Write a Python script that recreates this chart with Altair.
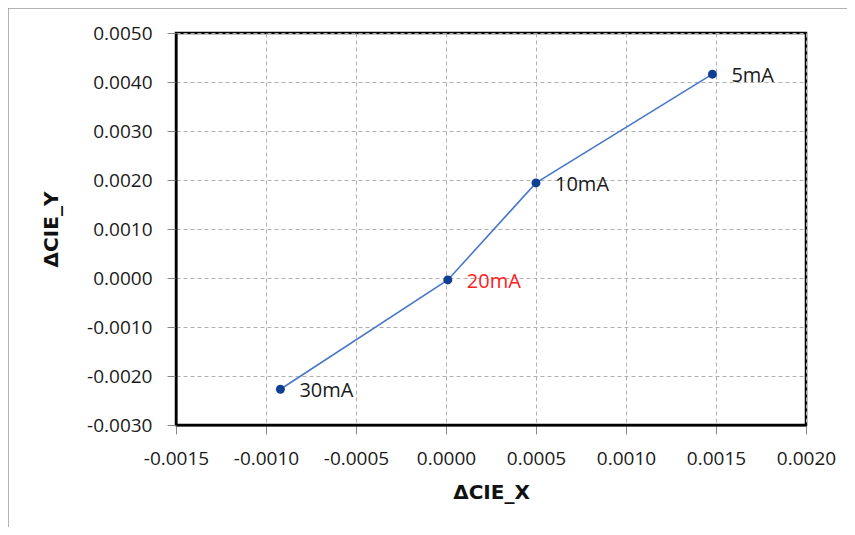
import altair as alt
import pandas as pd

labels = ["5mA", "10mA", "20mA", "30mA"]
dx_vals = [0.00148, 0.00050, 0.00001, -0.00092]
dy_vals = [0.00416, 0.00194, -0.00004, -0.00227]
label_colors = ["#1a1a1a", "#1a1a1a", "#ff2020", "#1a1a1a"]
x_ticks = [-0.0015, -0.0010, -0.0005, 0.0, 0.0005, 0.0010, 0.0015, 0.0020]
y_ticks = [-0.0030, -0.0020, -0.0010, 0.0, 0.0010, 0.0020, 0.0030, 0.0040, 0.0050]

df = pd.DataFrame({"label": labels, "x": dx_vals, "y": dy_vals, "color": label_colors,
                   "order": list(range(len(labels)))})

FONT = "Open Sans"
TFONT = "DejaVu Sans"
LBL = "replace(format(datum.value, '.4f'), '\u2212', '-')"

xs = alt.Scale(domain=[-0.0015, 0.0020], nice=False, zero=False)
ys = alt.Scale(domain=[-0.0030, 0.0050], nice=False, zero=False)

common = dict(grid=True, gridDash=[4, 3], gridColor="#b0b0b0", tickColor="#888888",
              tickSize=9, labelPadding=15, labelFontSize=19, labelColor="#1a1a1a",
              labelFont=FONT, labelExpr=LBL, labelOverlap=False, labelFlush=False,
              titleFont=TFONT, titleFontSize=20,
              titleFontWeight="bold", titleColor="#111111", domainColor="black",
              domainWidth=2)
xaxis = alt.Axis(values=x_ticks, title="ΔCIE_X", titlePadding=14, **common)
yaxis = alt.Axis(values=y_ticks, title="ΔCIE_Y", titlePadding=25, **common)

base = alt.Chart(df)

line = base.mark_line(color="#4a78c8", strokeWidth=1.6).encode(
    x=alt.X("x:Q", scale=xs, axis=xaxis),
    y=alt.Y("y:Q", scale=ys, axis=yaxis),
    order="order:O",
)
pts = base.mark_circle(color="#0f3f93", size=80, opacity=1).encode(
    x=alt.X("x:Q", scale=xs), y=alt.Y("y:Q", scale=ys)
)
txt = base.mark_text(align="left", baseline="middle", dx=19, dy=2, fontSize=20, font=FONT).encode(
    x=alt.X("x:Q", scale=xs), y=alt.Y("y:Q", scale=ys), text="label:N",
    color=alt.Color("color:N", scale=None),
)
frame = alt.Chart(pd.DataFrame({"a": [0]})).mark_rect(
    fill=None, stroke="#9a9a9a", strokeWidth=1.5, clip=False
).encode(x=alt.value(-168), x2=alt.value(676), y=alt.value(-25), y2=alt.value(530))

chart = alt.layer(frame, line, pts, txt).properties(
    width=630, height=392,
    autosize=alt.AutoSizeParams(type="none"),
    padding={"left": 168, "top": 25, "right": 41, "bottom": 102},
).configure_view(stroke="black", strokeWidth=2.5)

chart.save("out.html", embed_options={"renderer": "svg", "actions": False})
